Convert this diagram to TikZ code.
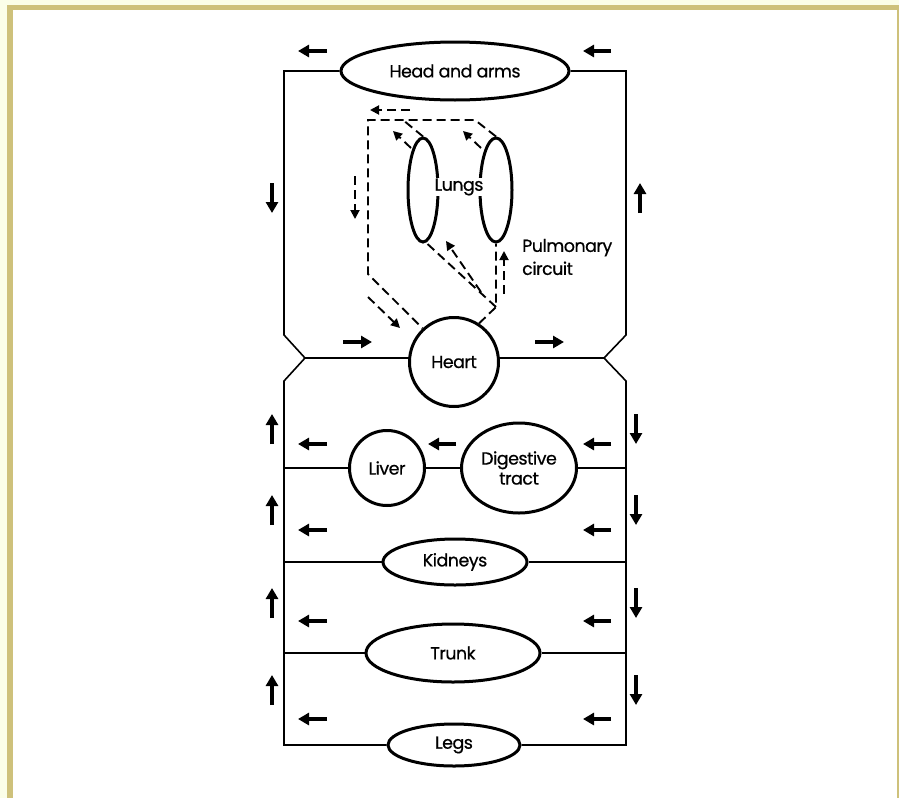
\documentclass[tikz,border=0pt]{standalone}
\usepackage{fontspec}
\setmainfont{Poppins}[FakeBold=0.6,LetterSpace=-3]
\usetikzlibrary{arrows.meta,shapes.geometric,calc}
\definecolor{pale}{HTML}{FBFEE8}
\definecolor{khaki}{HTML}{CEC17B}
\begin{document}
\begin{tikzpicture}[x=1pt,y=-1pt,
  organ/.style={draw,line width=3pt,ellipse,inner sep=0pt,align=center,font=\fontsize{17.5}{22}\selectfont},
  roundorgan/.style={draw,line width=3pt,circle,inner sep=0pt,font=\fontsize{17.5}{22}\selectfont},
  vessel/.style={line width=1.6pt,line join=miter},
  flow/.style={line width=3.8pt,-{Triangle[length=11pt,width=12pt]}},
  pulm/.style={line width=1.9pt,dash pattern=on 9pt off 5pt},
  pulmarr/.style={pulm,-{Triangle[length=9pt,width=9pt]}},
  lbl/.style={font=\fontsize{17.5}{23}\selectfont,inner sep=1pt}]
\useasboundingbox (0,0) rectangle (899,798);
% frame
\fill[pale] (0,0) rectangle (899,798);
\fill[khaki] (7,5) rectangle (899,798);
\fill[white] (13,10) rectangle (897,798);

% nodes
\node[organ,minimum width=228pt,minimum height=58pt] (head) at (455,71) {Head and arms};
\node[roundorgan,minimum size=89pt] (heart) at (454,362) {Heart};
\node[organ,minimum width=30pt,minimum height=104pt] (lungL) at (423,190) {};
\node[organ,minimum width=32pt,minimum height=104pt] (lungR) at (496,190) {};
\node[lbl,fill=white] (lungtxt) at (459,187) {Lungs};
\node[lbl,align=left,anchor=west] (pulmtxt) at (521,257) {Pulmonary\\circuit};
\node[roundorgan,minimum size=75pt] (liver) at (387,468) {Liver};
\node[organ,minimum width=115pt,minimum height=90pt] (digest) at (519,468) {Digestive\\[-2pt]tract};
\node[organ,minimum width=144pt,minimum height=46pt] (kidneys) at (455,562) {Kidneys};
\node[organ,minimum width=174pt,minimum height=58pt] (trunk) at (453,653) {Trunk};
\node[organ,minimum width=132pt,minimum height=42pt] (legs) at (454,745) {Legs};

% junction coordinates
\coordinate (jl) at (305,358);
\coordinate (jr) at (604,358);

% systemic vessels
\draw[vessel] (jl) -- (284,335) -- (284,71) -- (head);
\draw[vessel] (head) -- (626,71) -- (626,335) -- (jr);
\draw[vessel] (jl) -- (jl -| heart.west);
\draw[vessel] (jr) -- (jr -| heart.east);
\draw[vessel] (jl) -- (284,381) -- (284,745) -- (legs);
\draw[vessel] (jr) -- (626,381) -- (626,745) -- (legs);
\draw[vessel] (284,468) -- (liver);
\draw[vessel] (liver) -- (digest);
\draw[vessel] (digest) -- (626,468);
\draw[vessel] (284,562) -- (kidneys);
\draw[vessel] (kidneys) -- (626,562);
\draw[vessel] (284,653) -- (trunk);
\draw[vessel] (trunk) -- (626,653);

% flow arrows
\draw[flow] (327,51) -- (298,51);
\draw[flow] (611,51) -- (583,51);
\draw[flow] (272,183) -- (272,213);
\draw[flow] (640,213) -- (640,183);
\draw[flow] (343,342) -- (372,342);
\draw[flow] (535,342) -- (564,342);
\foreach \ya/\yb in {444/414,525/495,618/588,705/675}{
  \draw[flow] (272,\ya) -- (272,\yb);
  \draw[flow] (636,\yb) -- (636,\ya);
}
\foreach \y in {444,530,621,719}{
  \draw[flow] (327,\y) -- (298,\y);
  \draw[flow] (611,\y) -- (583,\y);
}
\draw[flow] (456,444) -- (428,444);

% pulmonary circuit
\coordinate (tr) at (475,120);
\coordinate (tm) at (403,120);
\coordinate (tl) at (368,120);
\coordinate (bl) at (368,274);
\coordinate (jn) at (496,307);
\draw[pulm] (lungR.north) -- (tr) -- (tl) -- (bl) -- (heart.133);
\draw[pulm] (lungL.north) -- (tm);
\draw[pulm] (heart.57) -- (jn) -- (lungR.south);
\draw[pulm] (jn) -- ([xshift=4pt]lungL.south);
\draw[pulmarr] (410,110) -- (370,110);
\draw[pulmarr] (411,148) -- (393,131);
\draw[pulmarr] (481,148) -- (463,131);
\draw[pulmarr] (355,176) -- (355,219);
\draw[pulmarr] (368,297) -- (400,328);
\draw[pulmarr] (481,292) -- (446,241);
\draw[pulmarr] (504,294) -- (504,251);
\end{tikzpicture}
\end{document}
